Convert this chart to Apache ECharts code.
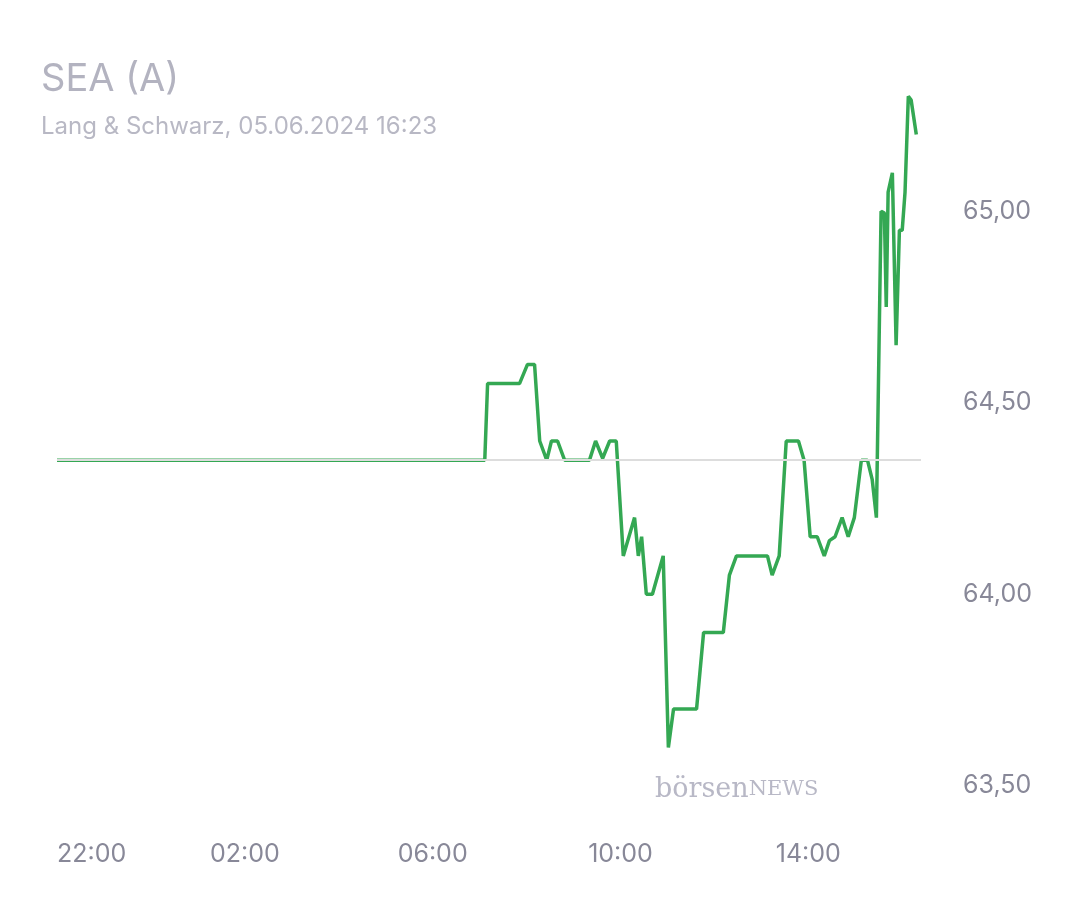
<!DOCTYPE html>
<html><head><meta charset="utf-8">
<script src="https://cdn.jsdelivr.net/npm/echarts@6/dist/echarts.min.js"></script>
<style>html,body{margin:0;background:#fff}#c{width:1080px;height:900px}</style>
</head><body><div id="c"></div>
<script>
// hours since 22:00 of previous day
const hours = [0,9.11,9.17,9.85,10.02,10.17,10.28,10.43,10.53,10.66,10.81,11.34,11.47,11.62,11.77,11.91,12.06,12.30,12.38,12.45,12.55,12.68,12.91,13.02,13.13,13.62,13.77,14.19,14.32,14.47,15.13,15.23,15.38,15.53,15.79,15.91,16.04,16.19,16.34,16.45,16.57,16.72,16.85,16.98,17.13,17.26,17.36,17.45,17.55,17.62,17.66,17.70,17.79,17.87,17.94,18.00,18.06,18.13,18.19,18.30];
const prices = [64.35,64.35,64.55,64.55,64.60,64.60,64.40,64.35,64.40,64.40,64.35,64.35,64.40,64.355,64.40,64.40,64.10,64.20,64.10,64.15,64.00,64.00,64.10,63.60,63.70,63.70,63.90,63.90,64.05,64.10,64.10,64.05,64.10,64.40,64.40,64.35,64.15,64.15,64.10,64.14,64.15,64.20,64.15,64.20,64.35,64.35,64.30,64.20,65.00,64.995,64.75,65.05,65.10,64.65,64.95,64.95,65.05,65.30,65.29,65.20];
const prevClose = 64.35;
const xTicks = [0,4,8,12,16];
const xTickLabels = ['22:00','02:00','06:00','10:00','14:00'];
const yTicks = [63.5,64.0,64.5,65.0];
const chart = echarts.init(document.getElementById('c'));
chart.setOption({
  animation:false,
  title:{text:'SEA (A)',subtext:'Lang & Schwarz, 05.06.2024 16:23',left:36,top:56,itemGap:16,
    textStyle:{fontFamily:'Inter',fontSize:38,fontWeight:'normal',color:'#b3b3c0'},
    subtextStyle:{fontFamily:'Inter',fontSize:24,color:'#b8b8c4'}},
  graphic:[{type:'text',left:655,top:776,style:{rich:{a:{font:'27px "DejaVu Serif"',fill:'#b8b8c6'},b:{font:'21px "DejaVu Serif"',fill:'#b8b8c6'}},text:'{a|börsen}{b|NEWS}'}}],
  grid:{left:57,right:159,top:58,bottom:76},
  xAxis:{type:'value',min:0,max:18.4,
    axisLine:{show:false},axisTick:{show:false},splitLine:{show:false},
    axisLabel:{customValues:xTicks,formatter:v=>xTickLabels[xTicks.indexOf(v)],color:'#888898',fontSize:25,fontFamily:'Inter',margin:18,alignMinLabel:'left'}},
  yAxis:{type:'value',position:'right',min:63.4,max:65.4,
    axisLine:{show:false},axisTick:{show:false},splitLine:{show:false},
    axisLabel:{customValues:yTicks,formatter:v=>v.toFixed(2).replace('.',','),color:'#888898',fontSize:25,fontFamily:'Inter',margin:42}},
  series:[{type:'line',data:hours.map((h,i)=>[h,prices[i]]),showSymbol:false,
    lineStyle:{color:'#34a853',width:3.5},
    markLine:{silent:true,symbol:'none',label:{show:false},lineStyle:{color:'#dddddd',width:2,type:'solid'},
      data:[[{coord:[0,prevClose]},{coord:[18.4,prevClose]}]]},z:3}]
});
</script></body></html>
